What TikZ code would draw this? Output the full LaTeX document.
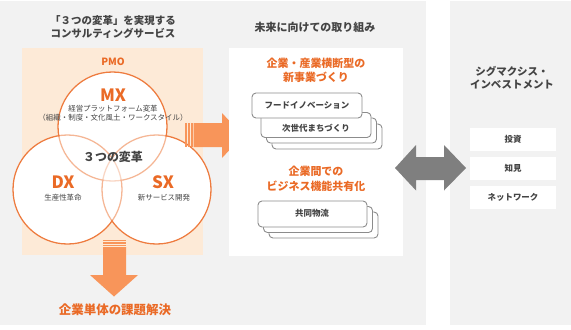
\documentclass[tikz,border=0pt]{standalone}
\usepackage{fontspec}
\setmainfont{Noto Sans CJK JP}
\definecolor{panelgray}{HTML}{F2F2F2}
\definecolor{peach}{HTML}{FDEAD7}
\definecolor{ortext}{HTML}{EA6A26}
\definecolor{orline}{HTML}{EE7B3E}
\definecolor{orarrow}{HTML}{F8955A}
\definecolor{darktext}{HTML}{444444}
\definecolor{grayarrow}{HTML}{7F7F7F}
\definecolor{boxline}{HTML}{8C8C8C}
\begin{document}
\begin{tikzpicture}[x=1bp,y=-1bp,
  every node/.style={inner sep=0pt, outer sep=0pt, align=center},
  headtxt/.style={text=darktext, font=\fontsize{10.5}{12.5}\selectfont\bfseries},
  ortitle/.style={text=ortext, font=\fontsize{11}{14.5}\selectfont\bfseries},
  bigx/.style={text=ortext, font=\fontsize{17}{17}\selectfont\bfseries},
  smalltxt/.style={text=darktext, font=\fontsize{7.5}{9}\selectfont},
  boxtxt/.style={text=darktext, font=\fontsize{8.5}{10}\selectfont\bfseries},
  stackbox/.style={draw=boxline, line width=0.9pt, fill=white, rounded corners=4bp, minimum width=110bp, minimum height=25bp},
  whitebox/.style={fill=white, minimum width=86bp, minimum height=23bp},
  circ/.style={draw=orline, line width=1.3pt}
]
\useasboundingbox (0,0) rectangle (571,329);
\fill[white] (0,0) rectangle (571,329);
\fill[panelgray] (0,1) rectangle (426,325);
\fill[panelgray] (450,1) rectangle (571,325);

% left column
\node[headtxt] (ltitle) at (113,27) {「３つの変革」を実現する\\コンサルティングサービス};
\fill[peach] (22,48) rectangle (203,255);
\node[text=ortext, font=\fontsize{10}{10}\selectfont\bfseries] (pmo) at (113,62) {PMO};

\coordinate (cmx) at (112.5,126.5);
\coordinate (cdx) at (67.5,189.5);
\coordinate (csx) at (156.5,189.5);
\fill[white] (cmx) circle (54.5);
\fill[white] (cdx) circle (54.5);
\fill[white] (csx) circle (54.5);
\draw[circ] (cmx) circle (54.5);
\draw[circ] (cdx) circle (54.5);
\draw[circ] (csx) circle (54.5);
\fill[white, opacity=0.45] (cmx) circle (53.6);
\fill[white, opacity=0.45] (cdx) circle (53.6);
\fill[white, opacity=0.45] (csx) circle (53.6);

\node[bigx] (mx) at (113,95) {MX};
\node[smalltxt] (mxsub) at (113,113.5) {経営プラットフォーム変革\\（組織・制度・文化風土・ワークスタイル）};
\node[text=darktext, font=\fontsize{12}{12}\selectfont\bfseries] (three) at (113,157) {３つの変革};
\node[bigx] (dx) at (63,182) {DX};
\node[smalltxt] (dxsub) at (63,198) {生産性革命};
\node[bigx] (sx) at (163,182) {SX};
\node[smalltxt] (sxsub) at (164,198) {新サービス開発};

% right orange arrow
\fill[orarrow] (185,123) rectangle (186.5,147);
\fill[orarrow] (188,123) rectangle (189.5,147);
\fill[orarrow] (191,123) rectangle (192.5,147);
\fill[orarrow] (193.5,123) -- (222,123) -- (222,113) -- (243,135.5) -- (222,158) -- (222,147) -- (193.5,147) -- cycle;

% down orange arrow
\fill[orarrow] (103,239.5) rectangle (126,241);
\fill[orarrow] (103,242) rectangle (126,243.5);
\fill[orarrow] (103,244.5) rectangle (126,246);
\fill[orarrow] (103,247) -- (126,247) -- (126,275) -- (138,275) -- (114,296.5) -- (90,275) -- (103,275) -- cycle;
\node[text=ortext, font=\fontsize{12.5}{12.5}\selectfont\bfseries] (single) at (115,310) {企業単体の課題解決};

% middle column
\node[headtxt, font=\fontsize{11}{12.5}\selectfont\bfseries] (mtitle) at (315,27) {未来に向けての取り組み};
\fill[white] (229,48) rectangle (403,256);
\node[ortitle] (newbiz) at (316,70.5) {企業・産業横断型の\\新事業づくり};

\node[stackbox, anchor=north west] (s14) at (272,124) {};
\node[stackbox, anchor=north west] (s13) at (266.5,118) {};
\node[stackbox, anchor=north west] (s12) at (261,112.5) {};
\node[boxtxt] (s12t) at (316,128) {次世代まちづくり};
\node[stackbox, anchor=north west] (s11) at (252,93) {};
\node[boxtxt] (s11t) at (307,105.5) {フードイノベーション};

\node[ortitle] (share) at (316,179) {企業間での\\ビジネス機能共有化};
\node[stackbox, anchor=north west, minimum width=109bp, minimum height=26bp] (s23) at (269,212) {};
\node[stackbox, anchor=north west, minimum width=109bp, minimum height=26bp] (s22) at (263.5,206.5) {};
\node[stackbox, anchor=north west, minimum width=109bp, minimum height=26bp] (s21) at (258,201) {};
\node[boxtxt] (s21t) at (312,213.5) {共同物流};

% double arrow
\fill[grayarrow] (395,168) -- (416,145) -- (416,157) -- (444,157) -- (444,145) -- (466,168) -- (444,190.5) -- (444,180) -- (416,180) -- (416,190.5) -- cycle;

% right column
\node[headtxt] (rtitle) at (512,77.5) {シグマクシス・\\インベストメント};
\node[whitebox] (inv) at (513,139.5) {};
\node[boxtxt] (invt) at (513,139.5) {投資};
\node[whitebox] (know) at (513,168.5) {};
\node[boxtxt] (knowt) at (513,168.5) {知見};
\node[whitebox] (net) at (513,197.5) {};
\node[boxtxt] (nett) at (513,197.5) {ネットワーク};
\end{tikzpicture}
\end{document}
